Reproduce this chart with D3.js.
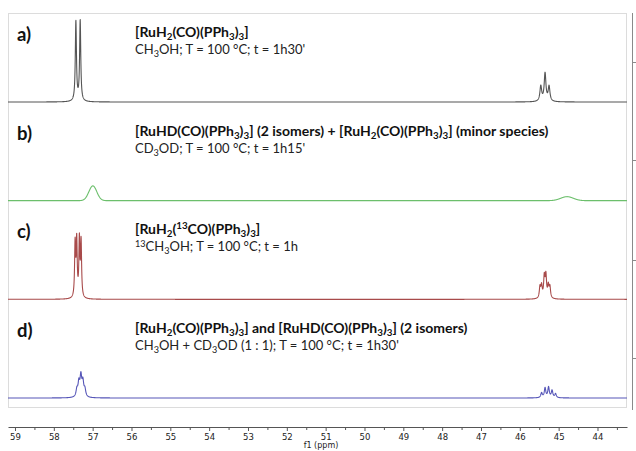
<!DOCTYPE html>
<html>
<head>
<meta charset="utf-8">
<script src="https://cdn.jsdelivr.net/npm/d3@7"></script>
<style>
  html, body { margin: 0; padding: 0; background: #fff; }
  svg { display: block; }
</style>
</head>
<body>
<svg id="chart" width="636" height="451"></svg>
<script>
// 31P{1H} NMR stack, four experiments, chemical shift axis in ppm (f1)
const panelLetters = ["a)", "b)", "c)", "d)"];
const panelTitles = [
  "[RuH_{2}(CO)(PPh_{3})_{3}]",
  "[RuHD(CO)(PPh_{3})_{3}] (2 isomers) + [RuH_{2}(CO)(PPh_{3})_{3}] (minor species)",
  "[RuH_{2}(^{13}CO)(PPh_{3})_{3}]",
  "[RuH_{2}(CO)(PPh_{3})_{3}] and [RuHD(CO)(PPh_{3})_{3}] (2 isomers)"
];
const panelConditions = [
  "CH_{3}OH; T = 100 °C; t = 1h30'",
  "CD_{3}OD; T = 100 °C; t = 1h15'",
  "^{13}CH_{3}OH; T = 100 °C; t = 1h",
  "CH_{3}OH + CD_{3}OD (1 : 1); T = 100 °C; t = 1h30'"
];
const traceColors = ["#555555", "#6cbf6c", "#a84a4a", "#5656b8"];

// peak lists per spectrum: shift (ppm), intensity, half width (ppm), line shape
const peaksA = [
  { ppm: 57.432, h: 100, w: 0.0175, shape: "L" },
  { ppm: 57.321, h: 101, w: 0.0175, shape: "L" },
  { ppm: 45.460, h: 19, w: 0.027, shape: "L" },
  { ppm: 45.350, h: 35, w: 0.027, shape: "L" },
  { ppm: 45.247, h: 18.5, w: 0.027, shape: "L" }
];
const peaksB = [
  { ppm: 56.995, h: 18.5, w: 0.12, shape: "G" },
  { ppm: 44.784, h: 5, w: 0.19, shape: "G" }
];
const peaksC = [
  { ppm: 57.452, h: 67, w: 0.0154, shape: "L" },
  { ppm: 57.411, h: 70, w: 0.0154, shape: "L" },
  { ppm: 57.342, h: 71, w: 0.0154, shape: "L" },
  { ppm: 57.298, h: 69, w: 0.0154, shape: "L" },
  { ppm: 45.481, h: 14, w: 0.02, shape: "L" },
  { ppm: 45.440, h: 15, w: 0.02, shape: "L" },
  { ppm: 45.370, h: 26, w: 0.02, shape: "L" },
  { ppm: 45.329, h: 27.5, w: 0.02, shape: "L" },
  { ppm: 45.267, h: 15, w: 0.02, shape: "L" },
  { ppm: 45.226, h: 14, w: 0.02, shape: "L" }
];
const peaksD = [
  { ppm: 57.406, h: 9, w: 0.0257, shape: "L" },
  { ppm: 57.355, h: 17, w: 0.0257, shape: "L" },
  { ppm: 57.303, h: 25, w: 0.0257, shape: "L" },
  { ppm: 57.252, h: 18, w: 0.0257, shape: "L" },
  { ppm: 57.200, h: 9, w: 0.0257, shape: "L" },
  { ppm: 45.440, h: 6, w: 0.023, shape: "L" },
  { ppm: 45.350, h: 12, w: 0.023, shape: "L" },
  { ppm: 45.260, h: 13, w: 0.023, shape: "L" },
  { ppm: 45.170, h: 9, w: 0.023, shape: "L" },
  { ppm: 45.080, h: 5, w: 0.023, shape: "L" }
];
const spectra = [peaksA, peaksB, peaksC, peaksD];

const axisTickLabels = [59, 58, 57, 56, 55, 54, 53, 52, 51, 50, 49, 48, 47, 46, 45, 44];
const axisMinorTicks = [59.5, 58.5, 57.5, 56.5, 55.5, 54.5, 53.5, 52.5, 51.5, 50.5, 49.5, 48.5, 47.5, 46.5, 45.5, 44.5, 43.5];
const axisTitle = "f1 (ppm)";
const rightTickRows = [62, 160, 260, 358];

const svg = d3.select("#chart");
const W = 636, H = 451;
svg.append("rect").attr("width", W).attr("height", H).attr("fill", "#fff");

// chemical shift runs right-to-left
const x = d3.scaleLinear().domain([59.18, 43.24]).range([8, 627]);
// baseline of each stacked spectrum
const baseY = d3.scaleLinear().domain([0, 3]).range([102, 398]);
// intensity (arbitrary units) to pixel height
const hScale = d3.scaleLinear().domain([0, 100]).range([0, 80]);

// plot frame
svg.append("rect")
  .attr("x", 8.5).attr("y", 13.5).attr("width", 618).attr("height", 394)
  .attr("fill", "none").attr("stroke", "#dcdcdc").attr("stroke-width", 1);

// intensity axis on the right edge
const rightAxisY = d3.scaleLinear().domain([0, 1]).range([13, 410]);
const rightG = svg.append("g").attr("transform", "translate(632.5,0)");
rightG.append("line")
  .attr("y1", rightAxisY(0)).attr("y2", rightAxisY(1))
  .attr("stroke", "#8a8a8a").attr("stroke-width", 1);
rightG.selectAll("line.tick").data(rightTickRows).join("line")
  .attr("class", "tick")
  .attr("x1", 0).attr("x2", 4)
  .attr("y1", d => d + 0.5).attr("y2", d => d + 0.5)
  .attr("stroke", "#8a8a8a");

// spectrum line shapes
function lineshape(p, v) {
  const t = (v - p.ppm) / p.w;
  return p.shape === "G" ? p.h * Math.exp(-Math.LN2 * t * t) : p.h / (1 + t * t);
}
const grid = d3.range(59.18, 43.24, -0.003);

spectra.forEach((peaks, i) => {
  const b = baseY(i);
  const pts = grid.map(v => [v, d3.sum(peaks, p => lineshape(p, v))]);
  const line = d3.line()
    .x(d => x(d[0]))
    .y(d => b - hScale(d[1]));
  svg.append("path")
    .attr("d", line(pts))
    .attr("fill", "none")
    .attr("stroke", traceColors[i])
    .attr("stroke-width", 1.1)
    .attr("stroke-linejoin", "round");
});

// text with _{sub} and ^{sup} markup
function richText(sel, str, size) {
  const parts = str.split(/(_\{[^}]*\}|\^\{[^}]*\})/).filter(s => s.length);
  let offset = 0;
  parts.forEach(s => {
    let txt = s, target = 0, fs = size;
    if (s.startsWith("_{")) { txt = s.slice(2, -1); target = size * 0.22; fs = size * 0.7; }
    else if (s.startsWith("^{")) { txt = s.slice(2, -1); target = -size * 0.36; fs = size * 0.7; }
    sel.append("tspan")
      .attr("dy", target - offset)
      .attr("font-size", fs)
      .text(txt);
    offset = target;
  });
}

const labelFont = "Lato, 'Open Sans', sans-serif";
panelLetters.forEach((lab, i) => {
  const b = baseY(i);
  svg.append("text")
    .attr("x", 17).attr("y", b - 61)
    .attr("font-family", labelFont).attr("font-weight", 700)
    .attr("font-size", 18.5).attr("fill", "#111")
    .text(lab);
  const t = svg.append("text")
    .attr("x", 135).attr("y", b - 65)
    .attr("font-family", labelFont).attr("font-weight", 700)
    .attr("font-size", 14).attr("fill", "#111");
  richText(t, panelTitles[i], 14);
  const c = svg.append("text")
    .attr("x", 135).attr("y", b - 48)
    .attr("font-family", labelFont)
    .attr("font-size", 13).attr("fill", "#222");
  richText(c, panelConditions[i], 13);
});

// chemical shift axis
const axisG = svg.append("g").attr("transform", "translate(0,427)");
axisG.call(d3.axisBottom(x).tickValues(axisTickLabels).tickSize(4).tickSizeOuter(0).tickPadding(3).tickFormat(d3.format("d")));
axisG.selectAll("g.minor").data(axisMinorTicks).join("g").attr("class", "minor")
  .append("line")
  .attr("x1", d => x(d) + 0.5).attr("x2", d => x(d) + 0.5)
  .attr("y1", 0).attr("y2", 3)
  .attr("stroke", "#555");
axisG.select(".domain").attr("stroke", "#555");
axisG.selectAll(".tick line").attr("stroke", "#555");
axisG.selectAll(".tick text")
  .attr("font-family", "'DejaVu Sans', sans-serif")
  .attr("font-size", 8.5).attr("fill", "#222");

svg.append("text")
  .attr("x", 321).attr("y", 448)
  .attr("text-anchor", "middle")
  .attr("font-family", "'DejaVu Sans', sans-serif")
  .attr("font-size", 8).attr("fill", "#222")
  .text(axisTitle);
</script>
</body>
</html>
